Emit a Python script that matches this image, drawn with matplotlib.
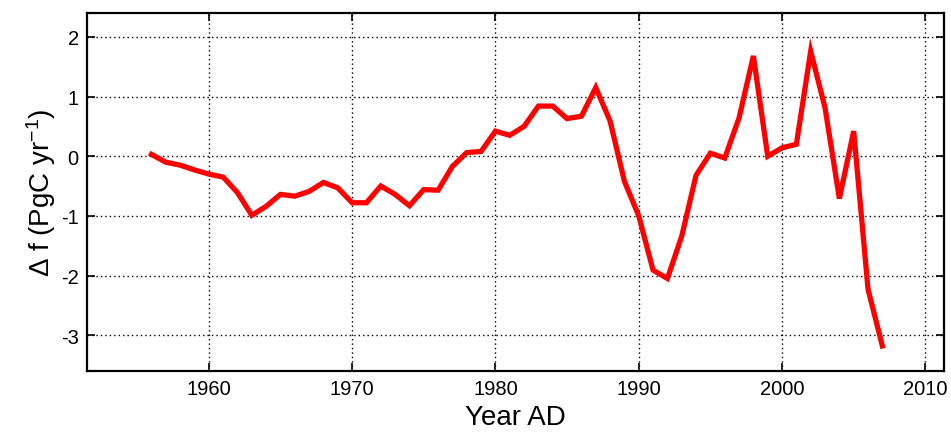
import numpy as np
import matplotlib.pyplot as plt

plt.rcParams['font.family'] = ['Liberation Sans', 'DejaVu Sans']
plt.rcParams['mathtext.fontset'] = 'custom'
plt.rcParams['mathtext.rm'] = 'Liberation Sans'
plt.rcParams['mathtext.it'] = 'Liberation Sans'
plt.rcParams['axes.unicode_minus'] = False

years = np.arange(1956, 2008)
delta_f = [0.03, -0.10, -0.15, -0.23, -0.30, -0.35, -0.61, -0.99, -0.84, -0.64,
           -0.67, -0.59, -0.44, -0.53, -0.78, -0.78, -0.50, -0.64, -0.83, -0.56,
           -0.57, -0.17, 0.06, 0.08, 0.42, 0.35, 0.50, 0.84, 0.84, 0.63,
           0.67, 1.15, 0.59, -0.42, -1.00, -1.91, -2.05, -1.34, -0.32, 0.05,
           -0.03, 0.64, 1.68, 0.00, 0.14, 0.20, 1.76, 0.81, -0.71, 0.42,
           -2.23, -3.18]
xticks = [1960, 1970, 1980, 1990, 2000, 2010]
yticks = [-3, -2, -1, 0, 1, 2]

fig = plt.figure(figsize=(9.51, 4.35), dpi=100)
ax = fig.add_axes([87 / 951, 63 / 435, 857 / 951, 358 / 435])

ax.plot(years, delta_f, color='#ff0000', lw=3.8, solid_joinstyle='miter')

ax.set_xlim(1951.5, 2011.3)
ax.set_ylim(-3.6, 2.4)
ax.set_xticks(xticks)
ax.set_yticks(yticks)
ax.grid(True, color='black', linestyle=(0, (1, 2.2)), linewidth=1.0)
ax.tick_params(direction='in', length=6, width=1.2, top=True, right=True,
               labelsize=14.5, pad=6, colors='black')
for s in ax.spines.values():
    s.set_linewidth(1.6)

ax.set_xlabel('Year AD', fontsize=20, labelpad=4)
ax.set_ylabel('Δ f (PgC yr$^{-1}$)', fontsize=20, labelpad=2)

fig.savefig('out.png', dpi=100)
